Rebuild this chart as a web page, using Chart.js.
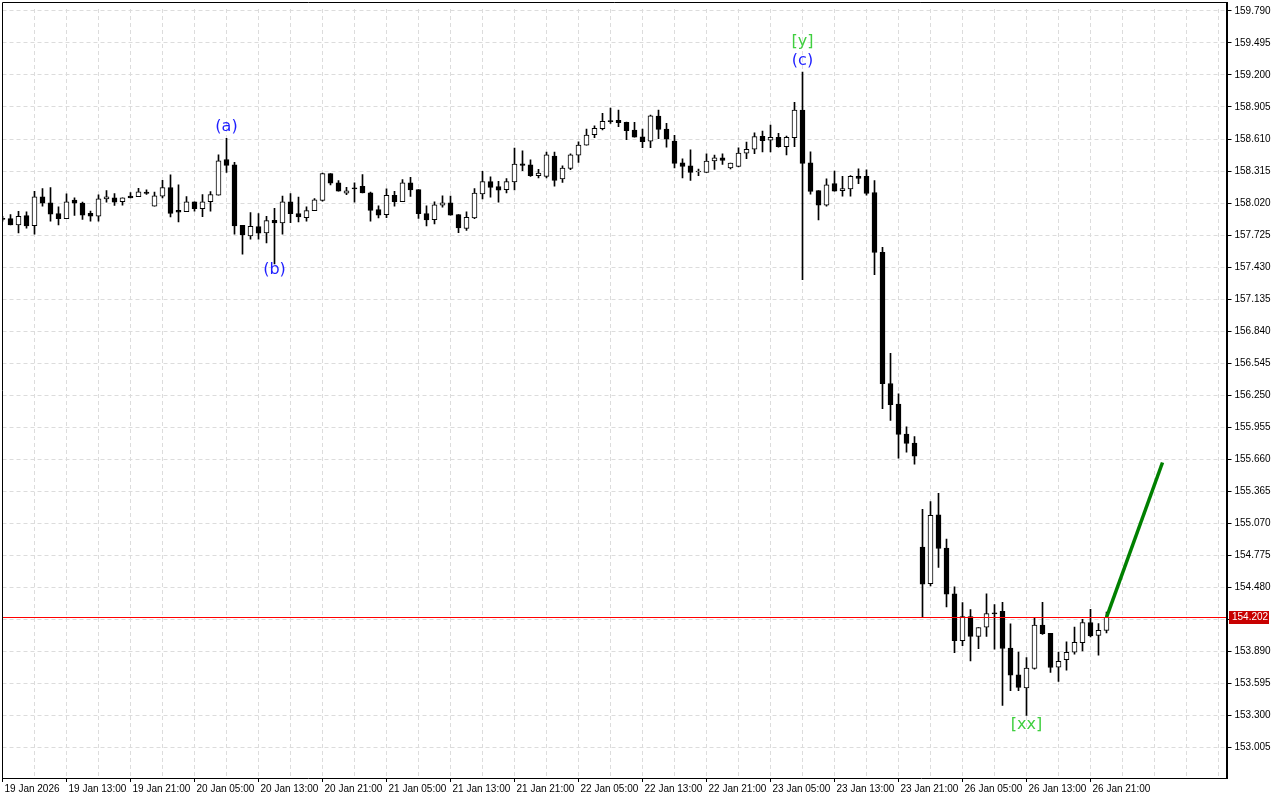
<!DOCTYPE html>
<html>
<head>
<meta charset="utf-8">
<title>USDJPY H1</title>
<script src="https://cdn.jsdelivr.net/npm/chart.js@4.4.1/dist/chart.umd.min.js"></script>
<style>
    html, body { margin: 0; padding: 0; background: #fff; }
    #wrap { width: 1280px; height: 800px; position: relative; }
</style>
</head>
<body>
<div id="wrap"><canvas id="priceChart"></canvas></div>
<script>
// hourly candles, 19 Jan 05:00 .. 26 Jan 23:00
const opens = [
    157.879, 157.876, 157.818, 157.904, 157.812, 158.078, 158.023, 157.922, 157.876, 158.047,
    158.019, 157.925, 157.900, 158.059, 158.068, 158.032, 158.083, 158.078, 158.120, 157.992,
    158.083, 158.163, 157.952, 157.940, 158.032, 157.968, 158.032, 158.092, 158.421, 158.373,
    157.815, 157.717, 157.803, 157.745, 157.861, 157.836, 158.032, 157.922, 157.886, 157.950,
    158.044, 158.291, 158.206, 158.111, 158.154, 158.175, 158.114, 157.959, 157.913, 158.090,
    158.032, 158.206, 158.144, 157.922, 157.867, 158.001, 158.023, 157.913, 157.785, 157.882,
    158.105, 158.218, 158.172, 158.144, 158.215, 158.382, 158.373, 158.272, 158.266, 158.453,
    158.242, 158.339, 158.462, 158.553, 158.650, 158.705, 158.773, 158.782, 158.763, 158.693,
    158.629, 158.590, 158.821, 158.702, 158.592, 158.391, 158.364, 158.306, 158.303, 158.407,
    158.437, 158.343, 158.357, 158.480, 158.516, 158.635, 158.599, 158.626, 158.540, 158.623,
    158.876, 158.391, 158.135, 158.001, 158.199, 158.133, 158.151, 158.266, 158.266, 158.117,
    157.566, 156.357, 156.167, 155.890, 155.808, 154.850, 154.512, 155.148, 154.841, 154.418,
    153.988, 154.210, 154.027, 154.112, 154.243, 154.258, 153.920, 153.673, 153.551, 153.731,
    154.130, 154.054, 153.743, 153.813, 153.881, 153.968, 154.155, 154.036, 154.082
];
const highs = [
    157.897, 157.913, 157.943, 157.940, 158.129, 158.154, 158.163, 157.986, 158.105, 158.068,
    158.028, 157.946, 158.096, 158.135, 158.108, 158.068, 158.117, 158.156, 158.142, 158.120,
    158.229, 158.279, 158.187, 158.080, 158.032, 158.099, 158.126, 158.464, 158.617, 158.394,
    157.815, 157.931, 157.922, 157.897, 157.971, 158.083, 158.108, 158.074, 157.986, 158.062,
    158.297, 158.291, 158.227, 158.165, 158.206, 158.282, 158.120, 157.995, 158.151, 158.129,
    158.236, 158.257, 158.144, 157.995, 158.032, 158.087, 158.083, 157.913, 157.940, 158.154,
    158.312, 158.261, 158.220, 158.245, 158.526, 158.501, 158.419, 158.330, 158.489, 158.489,
    158.364, 158.474, 158.583, 158.702, 158.732, 158.846, 158.894, 158.876, 158.766, 158.763,
    158.702, 158.830, 158.876, 158.754, 158.645, 158.428, 158.510, 158.334, 158.474, 158.462,
    158.474, 158.388, 158.528, 158.581, 158.666, 158.684, 158.739, 158.663, 158.638, 158.949,
    159.226, 158.492, 158.135, 158.242, 158.315, 158.266, 158.272, 158.336, 158.327, 158.227,
    157.611, 156.636, 156.263, 155.959, 155.867, 155.197, 155.270, 155.344, 154.923, 154.484,
    154.338, 154.274, 154.109, 154.420, 154.319, 154.340, 154.142, 153.883, 153.831, 154.197,
    154.340, 154.054, 153.883, 153.977, 154.112, 154.185, 154.276, 154.146, 154.252
];
const lows = [
    157.852, 157.818, 157.745, 157.788, 157.733, 157.992, 157.854, 157.818, 157.876, 157.907,
    157.870, 157.854, 157.854, 158.028, 157.998, 158.001, 158.068, 158.078, 158.099, 157.992,
    158.068, 157.891, 157.845, 157.940, 157.946, 157.895, 157.946, 158.092, 158.303, 157.733,
    157.550, 157.687, 157.687, 157.653, 157.459, 157.733, 157.840, 157.845, 157.854, 157.950,
    158.037, 158.187, 158.129, 158.096, 158.028, 158.114, 157.854, 157.882, 157.886, 157.992,
    158.032, 158.080, 157.879, 157.809, 157.827, 157.982, 157.909, 157.748, 157.767, 157.876,
    158.059, 158.074, 158.028, 158.114, 158.142, 158.318, 158.266, 158.251, 158.251, 158.175,
    158.211, 158.327, 158.394, 158.553, 158.623, 158.693, 158.754, 158.723, 158.604, 158.626,
    158.531, 158.531, 158.613, 158.535, 158.343, 158.251, 158.229, 158.272, 158.303, 158.330,
    158.376, 158.334, 158.352, 158.428, 158.474, 158.492, 158.492, 158.535, 158.464, 158.540,
    157.315, 158.101, 157.864, 157.992, 158.129, 158.083, 158.083, 158.199, 158.092, 157.361,
    156.126, 156.017, 155.669, 155.724, 155.614, 154.203, 154.493, 154.663, 154.298, 153.877,
    153.941, 153.801, 153.913, 154.027, 153.908, 153.390, 153.527, 153.527, 153.298, 153.725,
    154.045, 153.694, 153.612, 153.716, 153.862, 153.892, 154.023, 153.853, 154.060
];
const closes = [
    157.870, 157.818, 157.897, 157.809, 158.078, 158.019, 157.918, 157.876, 158.032, 158.019,
    157.909, 157.900, 158.059, 158.078, 158.028, 158.068, 158.068, 158.123, 158.108, 158.087,
    158.163, 157.925, 157.937, 158.032, 157.968, 158.032, 158.099, 158.410, 158.367, 157.809,
    157.727, 157.806, 157.742, 157.858, 157.836, 158.032, 157.922, 157.891, 157.950, 158.050,
    158.291, 158.202, 158.129, 158.133, 158.151, 158.114, 157.952, 157.909, 158.090, 158.032,
    158.206, 158.142, 157.922, 157.864, 158.004, 158.023, 157.909, 157.790, 157.888, 158.111,
    158.218, 158.165, 158.138, 158.218, 158.379, 158.367, 158.272, 158.297, 158.464, 158.229,
    158.343, 158.464, 158.553, 158.647, 158.709, 158.773, 158.770, 158.760, 158.687, 158.626,
    158.586, 158.824, 158.699, 158.608, 158.385, 158.357, 158.303, 158.308, 158.407, 158.437,
    158.412, 158.388, 158.480, 158.516, 158.632, 158.595, 158.626, 158.540, 158.626, 158.876,
    158.385, 158.126, 158.001, 158.187, 158.129, 158.154, 158.266, 158.248, 158.108, 157.564,
    156.355, 156.163, 155.889, 155.806, 155.687, 154.508, 155.142, 154.837, 154.416, 153.987,
    154.210, 154.027, 154.109, 154.237, 154.233, 153.915, 153.670, 153.557, 153.734, 154.130,
    154.051, 153.740, 153.798, 153.881, 153.972, 154.155, 154.032, 154.082, 154.202
];

const xTickLabels = [
    '19 Jan 2026', '19 Jan 13:00', '19 Jan 21:00', '20 Jan 05:00', '20 Jan 13:00', '20 Jan 21:00',
    '21 Jan 05:00', '21 Jan 13:00', '21 Jan 21:00', '22 Jan 05:00', '22 Jan 13:00', '22 Jan 21:00',
    '23 Jan 05:00', '23 Jan 13:00', '23 Jan 21:00', '26 Jan 05:00', '26 Jan 13:00', '26 Jan 21:00'
];
const yTicks = [
    153.005, 153.300, 153.595, 153.890, 154.185, 154.480, 154.775, 155.070, 155.365, 155.660,
    155.955, 156.250, 156.545, 156.840, 157.135, 157.430, 157.725, 158.020, 158.315, 158.610,
    158.905, 159.200, 159.495, 159.790
];
const bidPrice = 154.202;

// forecast arrow (green)
const trendBars = [138, 145];
const trendPrices = [154.202, 155.629];

// wave marks
const waveText = ['(a)', '(b)', '(c)', '[y]', '[xx]'];
const waveBars = [28, 34, 100, 100, 128];

const SLOTS = 154;            // visible bar slots incl. empty space on the right
const BAR_STEP = 8;
const gridColor = '#dcdcdc';
const axisFont = { family: 'Liberation Sans', size: 10 };

const slotLabels = Array.from({ length: SLOTS }, (_, i) => String(i));

const overlay = {
    id: 'overlay',
    afterDatasetsDraw(chart) {
        const { ctx, chartArea: a, scales: { y } } = chart;
        const py = Math.round(y.getPixelForValue(bidPrice));
        ctx.save();
        ctx.fillStyle = '#ff0000';
        ctx.fillRect(2, py, a.right - 2, 1);
        ctx.restore();
    },
    afterDraw(chart) {
        const { ctx, chartArea: a, scales: { x, y } } = chart;
        ctx.save();

        // frame + thick price axis
        ctx.strokeStyle = '#000';
        ctx.lineWidth = 1;
        ctx.beginPath();
        ctx.moveTo(2.5, 778.5);
        ctx.lineTo(2.5, 2.5);
        ctx.lineTo(1227, 2.5);
        ctx.moveTo(2, 778.5);
        ctx.lineTo(1228, 778.5);
        ctx.stroke();
        ctx.fillStyle = '#000';
        ctx.fillRect(1226, 2, 2, 777);

        // bid price box
        const py = Math.round(y.getPixelForValue(bidPrice));
        ctx.fillStyle = '#c80000';
        ctx.fillRect(1229, py - 6, 40, 13);
        ctx.fillStyle = '#fff';
        ctx.font = '10px "Liberation Sans"';
        ctx.textBaseline = 'middle';
        ctx.textAlign = 'left';
        ctx.fillText(bidPrice.toFixed(3), 1232, py + 0.5);

        // wave labels
        ctx.font = '16px "DejaVu Sans"';
        ctx.textAlign = 'center';
        waveText.forEach((t, i) => {
            const b = waveBars[i];
            const cx = x.getPixelForValue(b);
            const isTop = t === '(a)' || t === '(c)' || t === '[y]';
            const green = t.startsWith('[');
            ctx.fillStyle = green ? '#3fcf3f' : '#1f1fff';
            if (isTop) {
                ctx.textBaseline = 'bottom';
                const lift = t === '[y]' ? 19 : 0;
                ctx.fillText(t, cx, y.getPixelForValue(highs[b]) - 3 - lift);
            } else {
                ctx.textBaseline = 'top';
                ctx.fillText(t, cx, y.getPixelForValue(lows[b]) + (t === '[xx]' ? 1 : -2));
            }
        });
        ctx.restore();
    }
};

new Chart(document.getElementById('priceChart'), {
    type: 'bar',
    data: {
        labels: slotLabels,
        datasets: [
            {
                type: 'line',
                label: 'forecast',
                data: trendBars.map((b, i) => ({ x: String(b), y: trendPrices[i] })),
                borderColor: '#008000',
                borderWidth: 3.5,
                pointRadius: 0,
                order: 0
            },
            {
                label: 'body',
                data: opens.map((o, i) => [o, closes[i]]),
                backgroundColor: opens.map((o, i) => closes[i] >= o ? '#ffffff' : '#000000'),
                borderColor: '#000',
                borderWidth: 1,
                borderSkipped: false,
                barThickness: 5,
                minBarLength: 1,
                grouped: false,
                order: 1
            },
            {
                label: 'wick',
                data: lows.map((l, i) => [l, highs[i]]),
                backgroundColor: '#000',
                borderWidth: 0,
                barThickness: 1,
                grouped: false,
                order: 2
            }
        ]
    },
    options: {
        responsive: true,
        maintainAspectRatio: false,
        animation: false,
        events: [],
        layout: { padding: { top: 3, left: 2.5, right: 0, bottom: 0 } },
        plugins: {
            legend: { display: false },
            tooltip: { enabled: false }
        },
        scales: {
            x: {
                type: 'category',
                offset: false,
                grid: {
                    offset: false,
                    color: c => c.index % 4 === 0 ? gridColor : 'rgba(0,0,0,0)',
                    tickColor: c => (c.index % BAR_STEP === 0 && c.index / BAR_STEP < xTickLabels.length) ? '#000' : 'rgba(0,0,0,0)',
                    tickLength: 4
                },
                border: { display: false, dash: [4, 3] },
                ticks: {
                    autoSkip: false,
                    maxRotation: 0,
                    minRotation: 0,
                    align: 'start',
                    labelOffset: 2,
                    padding: 1,
                    color: '#000',
                    font: axisFont,
                    callback: (v, i) => (i % BAR_STEP === 0 && xTickLabels[i / BAR_STEP]) ? xTickLabels[i / BAR_STEP] : ''
                },
                afterFit: s => { s.height = 22; }
            },
            y: {
                type: 'linear',
                position: 'right',
                min: 152.722,
                max: 159.808,
                grid: {
                    color: gridColor,
                    tickColor: '#000',
                    tickLength: 5
                },
                border: { display: false, dash: [4, 3] },
                ticks: {
                    autoSkip: false,
                    padding: 3,
                    color: '#000',
                    font: axisFont,
                    callback: v => Math.abs(v - bidPrice) < 0.05 ? '' : v.toFixed(3)
                },
                afterBuildTicks: s => { s.ticks = yTicks.map(v => ({ value: v })); },
                afterFit: s => { s.width = 53.5; }
            }
        }
    },
    plugins: [overlay]
});
</script>
</body>
</html>
